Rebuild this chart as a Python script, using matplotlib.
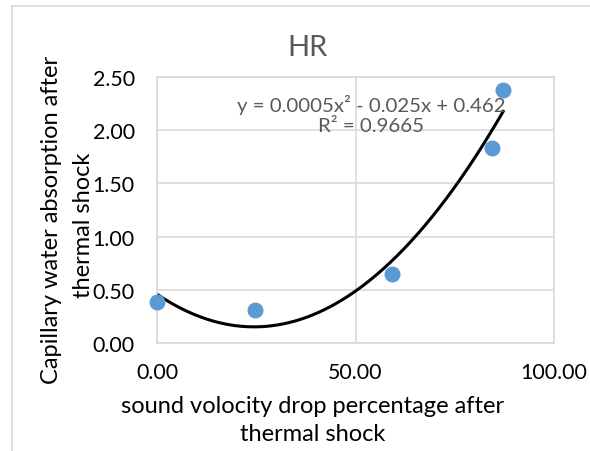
import numpy as np
import matplotlib.pyplot as plt
from matplotlib.lines import Line2D

plt.rcParams['font.family'] = ['Lato', 'DejaVu Sans']

# data
velocity_drop = [0.0, 24.7, 59.2, 84.4, 87.2]
water_absorption = [0.39, 0.31, 0.65, 1.83, 2.38]
x_ticks = [0, 50, 100]
y_ticks = [0.0, 0.5, 1.0, 1.5, 2.0, 2.5]

fig = plt.figure(figsize=(5.9, 4.52), dpi=100)
ax = fig.add_axes([157 / 590, 1 - 344 / 452, (554 - 157) / 590, (344 - 78) / 452])

grid_col = '#d9d9d9'
ax.set_xlim(0, 100)
ax.set_ylim(0, 2.5)
ax.set_xticks(x_ticks)
ax.set_yticks(y_ticks)
ax.set_xticklabels([f'{v:.2f}' for v in x_ticks])
ax.set_yticklabels([f'{v:.2f}' for v in y_ticks])
ax.grid(True, color=grid_col, linewidth=1.2)
ax.set_axisbelow(True)
for s in ax.spines.values():
    s.set_color(grid_col)
    s.set_linewidth(1.2)
ax.tick_params(length=0, labelsize=15.4, colors='black')
ax.tick_params(axis='y', pad=16)
ax.tick_params(axis='x', pad=14)

# second order trendline like excel
coef = np.polyfit(velocity_drop, water_absorption, 2)
xs = np.linspace(min(velocity_drop), max(velocity_drop), 200)
ax.plot(xs, np.polyval(coef, xs), color='black', linewidth=2.2, zorder=2)
ax.scatter(velocity_drop, water_absorption, s=110, color='#5b9bd5', zorder=3, clip_on=False)

ax.text(0.539, 0.861, 'y = 0.0005x² - 0.025x + 0.462\nR² = 0.9665', transform=ax.transAxes,
        ha='center', va='center', fontsize=14.7, color='#595959', linespacing=1.25)

fig.text(307 / 590, 1 - 48 / 452, 'HR', ha='center', va='center', fontsize=21, color='#595959')

# axis titles, one text per line so the spacing matches
fig.text(313 / 590, 1 - 407 / 452, 'sound volocity drop percentage after',
         ha='center', va='center', fontsize=17)
fig.text(313 / 590, 1 - 435 / 452, 'thermal shock', ha='center', va='center', fontsize=17)
fig.text(52 / 590, 1 - 220 / 452, 'Capillary water absorption after',
         ha='center', va='center', rotation=90, fontsize=17)
fig.text(83 / 590, 1 - 225 / 452, 'thermal shock',
         ha='center', va='center', rotation=90, fontsize=17)

# chart area border (left and top visible)
fig.add_artist(Line2D([12 / 590, 12 / 590], [0, 1 - 7 / 452], color=grid_col, linewidth=1.2))
fig.add_artist(Line2D([12 / 590, 1], [1 - 7 / 452, 1 - 7 / 452], color=grid_col, linewidth=1.2))

fig.savefig('out.png', dpi=100)
